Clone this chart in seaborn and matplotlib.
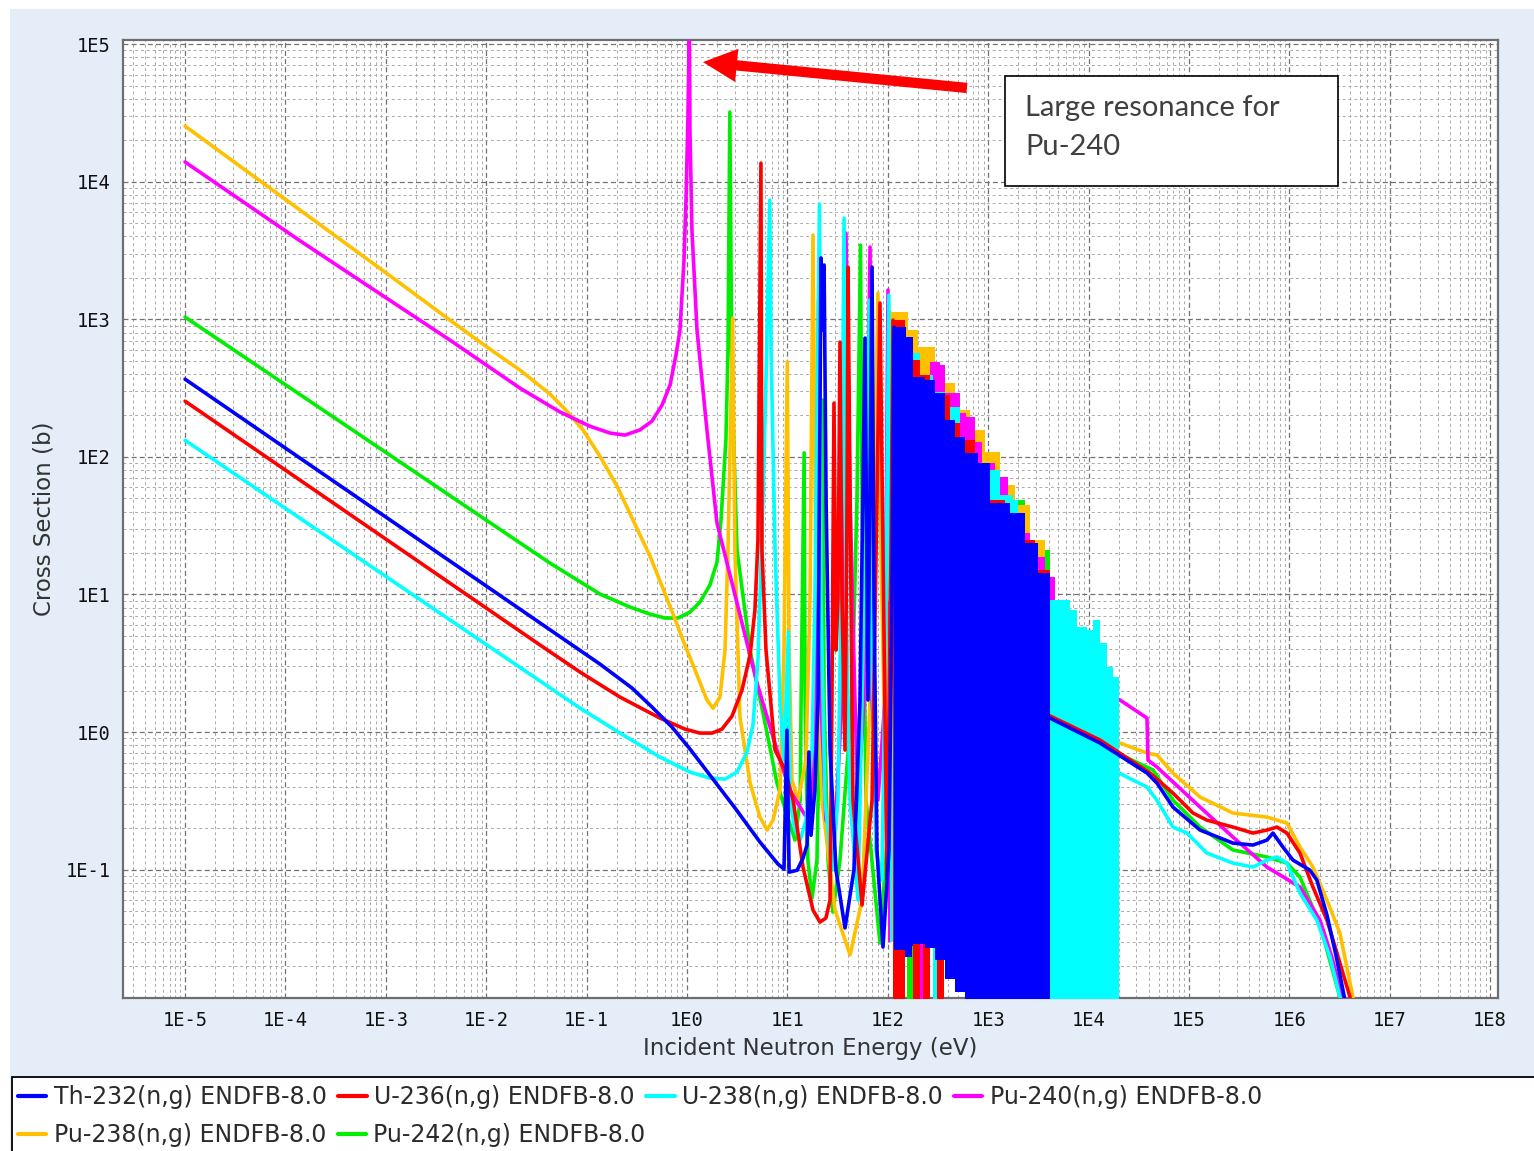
import numpy as np
import pandas as pd
import matplotlib
matplotlib.use("Agg")
import matplotlib.pyplot as plt
import seaborn as sns
from matplotlib.lines import Line2D
from matplotlib.patches import Rectangle
from matplotlib.ticker import FixedLocator, FuncFormatter, NullFormatter

# ---------------- data (energy in eV, cross section in barns) ----------------
labels = ["Th-232(n,g) ENDFB-8.0", "U-236(n,g) ENDFB-8.0", "U-238(n,g) ENDFB-8.0",
          "Pu-240(n,g) ENDFB-8.0", "Pu-238(n,g) ENDFB-8.0", "Pu-242(n,g) ENDFB-8.0"]
colors = ["#0000ff", "#ff0000", "#00ffff", "#ff00ff", "#ffc000", "#00ee00"]

# Th-232
th232_E = [1e-5, 0.1358, 0.283, 0.448, 0.709, 1.072, 1.69, 3.01, 5.33, 8.05, 9.25, 9.9, 10.4, 12.5,
           14.3, 15.7, 16.4, 17.2, 18.8, 20.2, 21.6, 22.1, 23.2, 24.3, 26.6, 30.5, 37.5, 46.0, 52.9, 59.3,
           63.5, 69.7, 72.9, 78.0, 89.6, 102.8, 110, 115.4]
th232_xs = [367, 3.12, 2.09, 1.52, 1.087, 0.752, 0.487, 0.2804, 0.1587, 0.1099, 0.101, 1.03, 0.096, 0.099,
            0.121, 0.151, 0.716, 0.178, 0.379, 1.71, 2790, 833, 2480, 48.5, 0.74, 0.099, 0.0377, 0.099, 1.71, 730,
            1.71, 2395, 9.1, 0.139, 0.0274, 0.139, 9.1, 877]
th232_res_E = [115.4, 148, 152, 174, 178, 235, 295, 372, 467, 587, 791, 1042, 1648, 2328, 3133, 4130]
th232_res_top = [877, 877, 743, 743, 380, 361, 291, 185, 139, 107, 90.2, 46.2, 39.0, 23.6, 14.3, 10.8]
th232_res_low = [0.026, 0.023, 0.023, 0.028, 0.029, 0.027, 0.022, 0.016, 0.013, 0.008, 0.008, 0.008,
                 0.008, 0.008, 0.008, 0.008]
th232_hi_E = [4130, 13000, 38200, 48000, 69300, 1.29e5, 2.74e5, 4.34e5, 5.98e5, 6.87e5, 8.63e5, 1.086e6,
              1.60e6, 1.88e6, 2.37e6, 2.91e6, 3.58e6, 4.02e6]
th232_hi_xs = [1.264, 0.832, 0.504, 0.426, 0.285, 0.194, 0.156, 0.151, 0.164, 0.1845, 0.146, 0.1174,
               0.0993, 0.084, 0.0468, 0.024, 0.01128, 0.0074]

# U-236
u236_E = [1e-5, 0.0344, 0.0859, 0.215, 0.538, 0.955, 1.346, 1.775, 2.23, 2.81, 3.53, 4.25, 4.75, 5.09, 5.45,
          5.58, 6.12, 7.54, 9.46, 11.4, 14.3, 18.0, 21.1, 24.2, 26.6, 27.8, 29.1, 30.5, 31.9, 33.4, 35.0,
          37.5, 39.3, 40.2, 42.1, 45.0, 55.4, 69.7, 78.0, 83.6, 89.6, 98.2, 107.7, 112.7]
u236_xs = [254, 4.29, 2.73, 1.796, 1.264, 1.051, 0.983, 0.983, 1.051, 1.307, 2.02, 3.63, 7.7, 24.9, 13650,
           21, 3.94, 0.74, 0.53, 0.32, 0.1045, 0.0508, 0.0416, 0.0445, 0.060, 1.71, 246, 3.94, 9.1, 683, 9.1,
           0.74, 48.5, 2395, 48.5, 0.32, 0.0553, 0.32, 48.5, 1312, 21, 0.084, 21, 986]
u236_res_E = [112.7, 148, 178, 209, 224, 263, 309, 363, 417, 524, 739, 1042, 1469, 2075, 2924, 4130]
u236_res_top = [986, 706, 505, 393, 393, 281, 281, 281, 176, 132, 84.3, 48.5, 37.8, 24.9, 15.0, 9.9]
u236_res_low = [0.008, 0.03, 0.008, 0.03, 0.008, 0.03, 0.008, 0.03, 0.03, 0.03, 0.03, 0.03, 0.03, 0.03,
                0.03, 0.03]
u236_hi_E = [4130, 13000, 40900, 69300, 1.096e5, 1.51e5, 2.74e5, 4.34e5, 5.98e5, 7.52e5, 9.46e5, 1.276e6,
             1.718e6, 2.37e6, 2.98e6, 4.02e6, 4.5e6]
u236_hi_xs = [1.31, 0.875, 0.504, 0.36, 0.258, 0.229, 0.204, 0.1845, 0.194, 0.204, 0.1845, 0.132, 0.0748,
              0.043, 0.0248, 0.01186, 0.0081]

# U-238
u238_E = [1e-5, 0.0344, 0.0859, 0.215, 0.538, 1.072, 1.69, 2.39, 3.15, 3.96, 4.54, 5.09, 5.71, 6.12, 6.67,
          6.87, 7.54, 8.44, 9.25, 10.24, 10.6, 11.9, 13.4, 15.3, 17.6, 18.8, 20.87, 21.6, 23.7, 27.8, 31.9,
          34.2, 36.68, 38.4, 42.1, 50.5, 60.7, 66.0, 68.1, 76.2, 87.5, 96, 102.5, 105]
u238_xs = [132, 2.35, 1.494, 0.983, 0.658, 0.512, 0.463, 0.455, 0.512, 0.716, 1.124, 3.34, 48.5, 361, 7350,
           597, 21, 1.71, 0.626, 5.33, 0.32, 0.194, 0.164, 0.229, 0.74, 9.1, 6870, 9.1, 0.32, 0.099, 0.32,
           9.1, 5430, 9.1, 0.32, 0.06, 48.5, 1380, 9.1, 0.139, 0.084, 9.1, 1500, 9.1]
u238_res_E = [105, 132, 166, 209, 282, 309, 372, 524, 630, 690, 739, 1309, 1766, 1983, 2794, 3681, 4130,
              6095, 6531, 7660, 9640, 11070, 13000, 15240, 17500, 20100]
u238_res_top = [706, 706, 568, 393, 296, 296, 230, 112, 112, 80.2, 80.2, 52.8, 48.5, 22.1, 15.0, 10.8,
                9.1, 9.1, 7.7, 5.8, 5.51, 6.52, 4.43, 2.97, 2.51, 2.27]
u238_res_low = [0.03, 0.03, 0.03, 0.03, 0.008, 0.03, 0.03, 0.03, 0.008, 0.03, 0.03, 0.03, 0.03, 0.03,
                0.03, 0.03, 0.008, 0.008, 0.008, 0.008, 0.008, 0.008, 0.008, 0.008, 0.008, 0.008]
u238_hi_E = [20100, 38200, 48000, 69300, 95500, 1.51e5, 2.74e5, 4.34e5, 5.98e5, 7.52e5, 9.46e5, 1.276e6,
             1.88e6, 2.54e6, 3.19e6, 3.58e6]
u238_hi_xs = [0.504, 0.398, 0.32, 0.204, 0.1845, 0.132, 0.1117, 0.1045, 0.1174, 0.1236, 0.1117, 0.0676,
              0.043, 0.0232, 0.01186, 0.0081]

# Pu-240
pu240_E = [1e-5, 1.396e-4, 1.384e-3, 4.35e-3, 0.0217, 0.0543, 0.108, 0.171, 0.241, 0.340, 0.448, 0.564,
           0.678, 0.776, 0.851, 0.933, 0.977, 1.02, 1.056, 1.07, 1.12, 1.258, 1.58, 1.99, 3.15, 4.98, 7.87,
           10.6, 15.0, 17.6, 18.8, 20.45, 21.6, 24.2, 29.8, 35.0, 38.3, 42.1, 47.1, 50.5, 57.9, 66.6, 69.7,
           79.8, 93.7, 100.5]
pu240_xs = [13900, 3720, 1227, 706, 316, 212, 167, 149, 144, 157, 182, 238, 333, 550, 832, 2690, 7350,
            28000, 1.3e5, 23700, 4450, 834, 157, 33.0, 8.66, 2.27, 0.74, 0.379, 0.249, 0.249, 1.71, 1380,
            1.71, 0.229, 0.194, 1.71, 4230, 48.5, 1.71, 0.32, 1.71, 3350, 1.71, 0.32, 1.71, 1630]
pu240_res_E = [100.5, 138, 187, 195, 224, 263, 331, 372, 524, 601, 739, 867, 1169, 1574, 1983, 2606, 3681,
               4624, 5190]
pu240_res_top = [568, 568, 361, 361, 361, 489, 465, 291, 210, 195, 128, 90.2, 71.3, 46.2, 27.9, 18.7, 13.4,
                 8.38, 8.1]
pu240_res_low = [0.03, 0.03, 0.03, 0.008, 0.03, 0.03, 0.03, 0.03, 0.03, 0.03, 0.03, 0.03, 0.03, 0.03,
                 0.03, 0.03, 0.03, 0.03, 0.03]
pu240_hi_E = [5430, 20550, 38200, 39100, 48000, 1.29e5, 2.74e5, 5.98e5, 1.276e6, 2.02e6, 2.65e6, 3.42e6,
              3.84e6]
pu240_hi_xs = [2.39, 1.71, 1.264, 0.626, 0.557, 0.285, 0.1726, 0.1045, 0.0748, 0.043, 0.0232, 0.0113, 0.0081]

# Pu-238
pu238_E = [1e-5, 1.396e-4, 1.384e-3, 4.35e-3, 0.01019, 0.0217, 0.0432, 0.061, 0.092, 0.1358, 0.201, 0.29,
           0.4276, 0.564, 0.726, 0.912, 1.148, 1.58, 1.816,
           2.13, 2.39, 2.56, 2.85, 3.0, 3.37, 4.25, 5.33, 6.27, 7.2, 8.44, 9.25, 9.98, 10.4, 11.1,
           12.8, 15.3, 16.8, 18.0, 19.3, 22.1, 29.8, 42.1, 55.4, 66.5, 74.5, 79.8, 85.5, 96, 105]
pu238_xs = [25350, 6220, 1832, 986, 628, 427, 286, 222, 157, 101, 61.3, 34.7, 19.0, 11.5, 7.2, 4.66, 3.07,
            1.71, 1.49,
            1.796, 3.94, 21, 1020, 21, 1.285, 0.426, 0.241, 0.194, 0.229, 0.379, 3.94, 489, 3.94, 0.448,
            0.32, 0.626, 9.1, 4090, 9.1, 0.32, 0.0508, 0.024, 0.06, 1.71, 112, 1550, 21, 0.32, 1128]
pu238_res_E = [105, 132, 159, 200, 295, 372, 467, 659, 929, 1309, 1849, 2606, 3681, 4130]
pu238_res_top = [1128, 1128, 834, 628, 406, 344, 219, 157, 108, 62.4, 44.7, 24.9, 13.8, 13.8]
pu238_res_low = [0.03] * 14
pu238_hi_E = [20550, 38200, 48000, 69300, 1.29e5, 2.74e5, 5.98e5, 9.46e5, 1.276e6, 1.718e6, 2.37e6,
              3.19e6, 4.3e6, 4.82e6]
pu238_hi_xs = [0.832, 0.704, 0.681, 0.504, 0.337, 0.258, 0.241, 0.218, 0.146, 0.1045, 0.06, 0.0346,
               0.01186, 0.0081]

# Pu-242
pu242_E = [1e-5, 0.0432, 0.1358, 0.2704, 0.4276, 0.604, 0.814, 1.072, 1.346, 1.69, 1.99, 2.18, 2.44, 2.56,
           2.67, 2.8, 3.15, 4.25, 6.27, 7.87, 11.9, 13.4, 13.7, 14.68, 15.0, 16.0, 17.6, 19.7, 21.1, 22.5,
           23.2, 25.4, 28.4, 33.4, 44.0, 49.3, 53.5, 55.4, 60.7, 83.6, 105, 112.7]
pu242_xs = [1038, 16.9, 10.07, 8.1, 7.2, 6.74, 6.74, 7.45, 8.81, 11.7, 17.2, 34.7, 132, 597,
            32060, 344, 21, 3.94, 0.984, 0.426, 0.164, 0.32, 1.71, 107, 1.71, 0.1174, 0.0622, 0.1174, 1.71, 259,
            1.71, 0.1174, 0.0492, 0.1174, 1.71, 48.5, 3460, 48.5, 0.32, 0.0293, 0.32, 48.5]
pu242_res_E = [112.7, 155, 178, 187, 295, 500, 739, 1309, 2328, 4130]
pu242_res_top = [505, 505, 505, 306, 219, 149, 94.8, 48.5, 21, 9.1]
pu242_res_low = [0.03, 0.008, 0.03, 0.03, 0.03, 0.03, 0.03, 0.03, 0.03, 0.03]
pu242_hi_E = [4130, 13000, 43900, 69300, 1.29e5, 2.74e5, 5.98e5, 9.46e5, 1.276e6, 2.02e6, 3.19e6, 3.58e6]
pu242_hi_xs = [1.18, 0.804, 0.53, 0.32, 0.204, 0.139, 0.1236, 0.1117, 0.0883, 0.0396, 0.01186, 0.0081]

x_ticks_exp = list(range(-5, 9))
y_ticks_exp = list(range(-1, 6))
annotation_text = "Large resonance for\nPu-240"

# ---------------- figure ----------------
sns.set_style("white")
plt.rcParams["font.family"] = ["DejaVu Sans"]

fig = plt.figure(figsize=(15.34, 11.51), dpi=100)
fig.patch.set_facecolor("#e5edf9")
ax = fig.add_axes([0.0802, 0.1329, 0.8963, 0.8323])
ax.set_facecolor("white")

series = {
    "Th-232": (th232_E, th232_xs, th232_res_E, th232_res_top, th232_res_low, th232_hi_E, th232_hi_xs, 0, 9),
    "U-236": (u236_E, u236_xs, u236_res_E, u236_res_top, u236_res_low, u236_hi_E, u236_hi_xs, 1, 8),
    "U-238": (u238_E, u238_xs, u238_res_E, u238_res_top, u238_res_low, u238_hi_E, u238_hi_xs, 2, 7),
    "Pu-240": (pu240_E, pu240_xs, pu240_res_E, pu240_res_top, pu240_res_low, pu240_hi_E, pu240_hi_xs, 3, 6),
    "Pu-238": (pu238_E, pu238_xs, pu238_res_E, pu238_res_top, pu238_res_low, pu238_hi_E, pu238_hi_xs, 4, 5),
    "Pu-242": (pu242_E, pu242_xs, pu242_res_E, pu242_res_top, pu242_res_low, pu242_hi_E, pu242_hi_xs, 5, 4),
}

LW = 2.6
for name, (E, xs, rE, rtop, rlow, hE, hxs, ci, z) in series.items():
    c = colors[ci]
    d1 = pd.DataFrame({"E": E, "xs": xs})
    sns.lineplot(data=d1, x="E", y="xs", ax=ax, color=c, lw=LW, sort=False, estimator=None, zorder=z)
    ax.fill_between(rE, rlow, rtop, step="post", color=c, linewidth=0, zorder=z)
    d2 = pd.DataFrame({"E": hE, "xs": hxs})
    sns.lineplot(data=d2, x="E", y="xs", ax=ax, color=c, lw=LW, sort=False, estimator=None, zorder=z)

ax.set_xscale("log")
ax.set_yscale("log")
xlo, xhi = 2.41e-6, 1.197e8
ylo, yhi = 0.01167, 1.07e5
ax.set_xlim(xlo, xhi)
ax.set_ylim(ylo, yhi)

fmt = FuncFormatter(lambda v, p: "1E%d" % int(round(np.log10(v))))
ax.xaxis.set_major_locator(FixedLocator([10.0 ** k for k in x_ticks_exp]))
ax.yaxis.set_major_locator(FixedLocator([10.0 ** k for k in y_ticks_exp]))
xminor = [m * 10.0 ** k for k in range(-6, 9) for m in range(2, 10) if xlo <= m * 10.0 ** k <= xhi]
yminor = [m * 10.0 ** k for k in range(-2, 6) for m in range(2, 10) if ylo <= m * 10.0 ** k <= yhi]
ax.xaxis.set_minor_locator(FixedLocator(xminor))
ax.yaxis.set_minor_locator(FixedLocator(yminor))
ax.xaxis.set_major_formatter(fmt)
ax.yaxis.set_major_formatter(fmt)
ax.xaxis.set_minor_formatter(NullFormatter())
ax.yaxis.set_minor_formatter(NullFormatter())

ax.set_axisbelow(True)
ax.grid(True, which="major", color="#737373", linestyle=(0, (4, 2.5)), linewidth=0.9)
ax.grid(True, which="minor", color="#aaaaaa", linestyle=(0, (3, 3)), linewidth=0.7)

ax.tick_params(which="both", direction="out", color="#808080", width=0.8, labelsize=13.5,
               labelfontfamily="DejaVu Sans Mono", labelcolor="#111111", pad=4)
ax.tick_params(which="major", length=5)
ax.tick_params(which="minor", length=4)
for s in ax.spines.values():
    s.set_color("#6e6e6e")
    s.set_linewidth(1.6)

ax.set_xlabel("Incident Neutron Energy (eV)", fontsize=16.5, color="#333333")
ax.set_ylabel("Cross Section (b)", fontsize=16.5, color="#333333")
ax.xaxis.label.set_va("center")
ax.yaxis.label.set_va("center")
ax.xaxis.set_label_coords(0.5, -0.053)
ax.yaxis.set_label_coords(-0.0575, 0.5)

# annotation box and arrow
ax.add_patch(Rectangle((0.6415, 0.8476), 0.2421, 0.1148, transform=ax.transAxes,
                       facecolor="white", edgecolor="black", lw=1.2, zorder=20))
ax.text(0.656, 0.943, annotation_text, transform=ax.transAxes, fontsize=21,
        family=["Lato", "DejaVu Sans"], color="#404040", va="top", ha="left", linespacing=1.62, zorder=21)
ax.annotate("", xy=(0.4218, 0.977), xytext=(0.6138, 0.950), xycoords="axes fraction",
            textcoords="axes fraction",
            arrowprops=dict(arrowstyle="simple,head_length=1.22,head_width=1.2,tail_width=0.37",
                            fc="#ff0000", ec="none", mutation_scale=20, shrinkA=0, shrinkB=0),
            zorder=20)

# outer decorations
fig.add_artist(Rectangle((0, 0), 10 / 1534, 1, transform=fig.transFigure, facecolor="white",
                         edgecolor="none", zorder=0.5))
fig.add_artist(Rectangle((0, 1 - 9 / 1151), 1, 9 / 1151, transform=fig.transFigure, facecolor="white",
                         edgecolor="none", zorder=0.5))
fig.add_artist(Rectangle((12 / 1534, -0.02), 1.0, (1151 - 1077) / 1151 + 0.02, transform=fig.transFigure,
                         facecolor="white", edgecolor="black", lw=1.3, zorder=1))

legend_rows = [[0, 1, 2, 3], [4, 5]]
row_tops = [0.0570, 0.0570 - 38 / 1151]
for row, ytop in zip(legend_rows, row_tops):
    handles = [Line2D([0], [0], color=colors[i], lw=3) for i in row]
    leg = fig.legend(handles, [labels[i] for i in row], loc="upper left",
                     bbox_to_anchor=(0.0118, ytop), ncol=len(row), frameon=False, fontsize=17,
                     handlelength=1.2, handletextpad=0.3, columnspacing=0.5,
                     borderpad=0, borderaxespad=0)
    for t in leg.get_texts():
        t.set_color("#2b2b2b")

fig.savefig("out.png", dpi=100, facecolor=fig.get_facecolor())
